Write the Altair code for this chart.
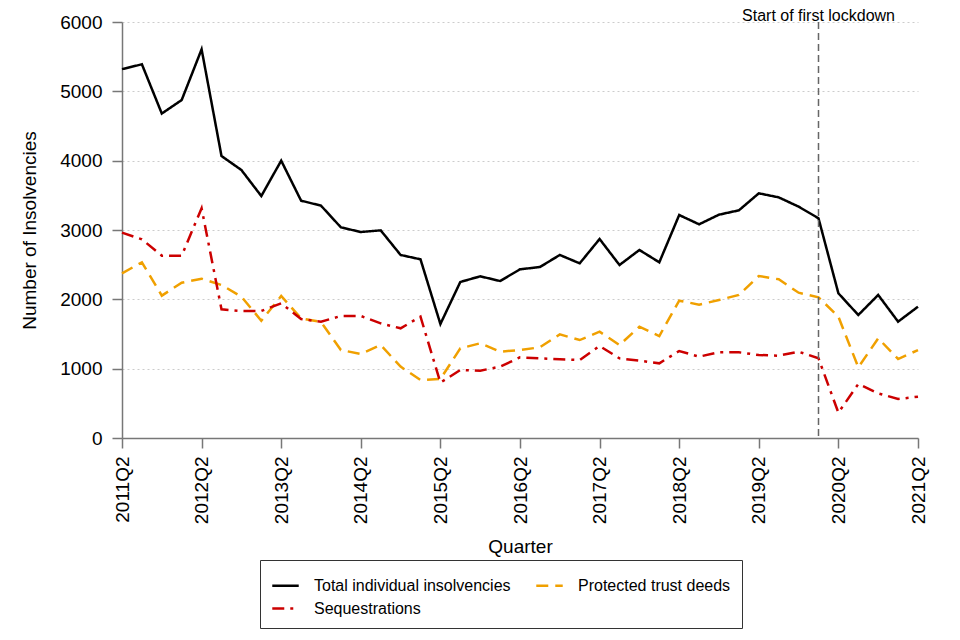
import altair as alt
import pandas as pd

quarters = [f"{y}Q{q}" for y in range(2011, 2022) for q in range(1, 5)][1:42]

total = [5320, 5390, 4680, 4875, 5606, 4067, 3865, 3490, 4000, 3423,
         3351, 3038, 2971, 2995, 2640, 2577, 1644, 2250, 2332, 2264,
         2433, 2466, 2640, 2519, 2870, 2495, 2712, 2534, 3216, 3082,
         3221, 3284, 3529, 3471, 3337, 3169, 2087, 1774, 2063, 1678, 1894]

ptd = [2375, 2534, 2053, 2240, 2298, 2207, 2038, 1692, 2048, 1726,
       1673, 1269, 1212, 1341, 1029, 837, 851, 1293, 1366, 1245,
       1269, 1308, 1495, 1413, 1533, 1341, 1606, 1471, 1981, 1923,
       1990, 2063, 2337, 2289, 2096, 2029, 1750, 1019, 1438, 1139, 1269]

seq = [2962, 2866, 2630, 2630, 3313, 1856, 1832, 1832, 1942, 1716,
       1678, 1760, 1760, 1654, 1582, 1750, 798, 981, 971, 1029,
       1163, 1149, 1135, 1125, 1327, 1149, 1115, 1077, 1255, 1173,
       1236, 1236, 1197, 1187, 1245, 1149, 365, 779, 644, 562, 596]

series_names = ["Total individual insolvencies", "Protected trust deeds", "Sequestrations"]
tick_labels = quarters[::4]
lockdown_quarter = "2020Q1"
lockdown_label = "Start of first lockdown"

rows = []
for name, vals in zip(series_names, [total, ptd, seq]):
    for q, v in zip(quarters, vals):
        rows.append({"Quarter": q, "Value": v, "Series": name})
df = pd.DataFrame(rows)
ann = pd.DataFrame({"Quarter": [lockdown_quarter], "label": [lockdown_label]})

x_enc = alt.X("Quarter:O", sort=quarters,
              scale=alt.Scale(type="point", padding=0, domain=quarters),
              axis=alt.Axis(values=tick_labels, title="Quarter", labelAngle=270,
                            labelFontSize=19, titleFontSize=19, labelPadding=8,
                            titlePadding=14, tickSize=10, grid=False,
                            domainColor="#777777", tickColor="#777777",
                            domainWidth=1.5, tickWidth=1.5, labelColor="black",
                            titleFontWeight="normal"))

legend_opts = dict(title=None, orient="none", legendX=138, legendY=538,
                   columns=2, direction="horizontal", strokeColor="#333333",
                   padding=11, rowPadding=-9.5, columnPadding=20, labelFontSize=16,
                   labelOffset=14, labelLimit=400, symbolType="stroke",
                   symbolStrokeWidth=2.5, symbolSize=700,
                   labelColor="black", fillColor="white")

lines = alt.Chart(df).mark_line(strokeWidth=2.5).encode(
    x=x_enc,
    y=alt.Y("Value:Q", scale=alt.Scale(domain=[0, 6000], nice=False),
            axis=alt.Axis(values=[0, 1000, 2000, 3000, 4000, 5000, 6000], format="d",
                          title="Number of Insolvencies", labelFontSize=19,
                          titleFontSize=19, titleFontWeight="normal",
                          labelPadding=10, titlePadding=20, tickSize=10,
                          grid=True, gridColor="#cccccc", gridDash=[2, 3],
                          gridWidth=1, domainColor="#777777", tickColor="#777777",
                          domainWidth=1.5, tickWidth=1.5, labelColor="black")),
    color=alt.Color("Series:N", sort=series_names,
                    scale=alt.Scale(domain=series_names,
                                    range=["#000000", "#F0A000", "#CC0000"]),
                    legend=alt.Legend(**legend_opts)),
    strokeDash=alt.StrokeDash("Series:N", sort=series_names,
                              scale=alt.Scale(domain=series_names,
                                              range=[[1, 0], [12, 7], [12, 6, 3, 6]]),
                              legend=alt.Legend(**legend_opts)),
)

rule = alt.Chart(ann).mark_rule(color="#666666", strokeDash=[7, 4], strokeWidth=1.5).encode(
    x=alt.X("Quarter:O", sort=quarters)
)

text = alt.Chart(ann).mark_text(fontSize=16, baseline="alphabetic", align="center", color="black").encode(
    x=alt.X("Quarter:O", sort=quarters),
    y=alt.value(-1),
    text="label:N"
)

chart = alt.layer(lines, rule, text).properties(
    width=796, height=416,
    autosize=alt.AutoSizeParams(type="none"),
    padding={"left": 114, "top": 14, "right": 20, "bottom": 194},
).configure(font="Liberation Sans").configure_view(stroke=None)

chart.save("out.html", embed_options={"renderer": "svg", "actions": False})
